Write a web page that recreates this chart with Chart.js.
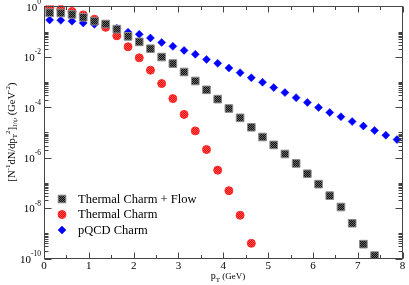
<!DOCTYPE html>
<html>
<head>
<meta charset="utf-8">
<script src="https://cdn.jsdelivr.net/npm/chart.js@4/dist/chart.umd.min.js"></script>
<style>
  html, body { margin: 0; padding: 0; background: #fff; }
  #wrap { width: 409px; height: 285px; }
</style>
</head>
<body>
<div id="wrap"><canvas id="chart" width="409" height="285"></canvas></div>
<script>
// pT bins (GeV)
const ptFlow = [0.125, 0.375, 0.625, 0.875, 1.125, 1.375, 1.625, 1.875, 2.125, 2.375,
  2.625, 2.875, 3.125, 3.375, 3.625, 3.875, 4.125, 4.375, 4.625, 4.875,
  5.125, 5.375, 5.625, 5.875, 6.125, 6.375, 6.625, 6.875, 7.125, 7.375];
const ptThermal = [0.125, 0.375, 0.625, 0.875, 1.125, 1.375, 1.625, 1.875, 2.125, 2.375,
  2.625, 2.875, 3.125, 3.375, 3.625, 3.875, 4.125, 4.375, 4.625];
const ptPqcd = [0.125, 0.375, 0.625, 0.875, 1.125, 1.375, 1.625, 1.875, 2.125, 2.375,
  2.625, 2.875, 3.125, 3.375, 3.625, 3.875, 4.125, 4.375, 4.625, 4.875,
  5.125, 5.375, 5.625, 5.875, 6.125, 6.375, 6.625, 6.875, 7.125, 7.375, 7.625, 7.875];

// 스펙트럼 값
const thermalFlow = [0.56, 0.55, 0.48, 0.37, 0.26, 0.20, 0.125, 0.065, 0.039, 0.021,
  9.8e-3, 5.4e-3, 2.5e-3, 1.1e-3, 4.9e-4, 2.1e-4, 8.9e-5, 3.8e-5, 1.6e-5, 6.6e-6,
  3.2e-6, 1.4e-6, 5.9e-7, 2.3e-7, 8.9e-8, 3.1e-8, 1.1e-8, 2.5e-9, 3.7e-10, 1.3e-10];
const thermal = [0.93, 0.78, 0.63, 0.46, 0.31, 0.148, 0.068, 0.025, 9.1e-3, 2.95e-3,
  8.7e-4, 2.2e-4, 5.2e-5, 1.15e-5, 2.1e-6, 3.2e-7, 4.9e-8, 5.2e-9, 4.0e-10];
const pqcd = [0.29, 0.28, 0.26, 0.22, 0.195, 0.174, 0.135, 0.095, 0.078, 0.056,
  0.037, 0.026, 0.018, 0.0126, 7.9e-3, 5.5e-3, 3.6e-3, 2.35e-3, 1.48e-3, 9.8e-4,
  6.0e-4, 3.8e-4, 2.4e-4, 1.55e-4, 9.8e-5, 6.2e-5, 4.2e-5, 2.7e-5, 1.8e-5, 1.2e-5,
  7.8e-6, 5.2e-6];

const seriesNames = ['Thermal Charm + Flow', 'Thermal Charm', 'pQCD Charm'];
const xTickValues = [0, 1, 2, 3, 4, 5, 6, 7, 8];
const yTickExponents = [0, -2, -4, -6, -8, -10];

const SERIF = '"Liberation Serif", "DejaVu Serif", serif';

// 체크무늬 패턴 (xmgrace 심볼 느낌)
function makePattern(c1, c2) {
  const pc = document.createElement('canvas');
  pc.width = 2; pc.height = 2;
  const g = pc.getContext('2d');
  g.fillStyle = c1; g.fillRect(0, 0, 2, 2);
  g.fillStyle = c2; g.fillRect(0, 0, 1, 1); g.fillRect(1, 1, 1, 1);
  return g.createPattern(pc, 'repeat');
}

const toPts = (xs, ys) => xs.map((x, i) => ({ x, y: ys[i] }));

// 위첨자/아래첨자 텍스트 그리기
function drawRich(ctx, parts, x, y, align) {
  let total = 0;
  parts.forEach(p => { ctx.font = p.size + 'px ' + SERIF; p.w = ctx.measureText(p.t).width; total += p.w; });
  let cx = align === 'right' ? x - total : align === 'center' ? x - total / 2 : x;
  parts.forEach(p => {
    ctx.font = p.size + 'px ' + SERIF;
    ctx.fillText(p.t, cx, y + (p.dy || 0));
    cx += p.w;
  });
}

const framePlugin = {
  id: 'graceFrame',
  afterDraw(chart) {
    const { ctx, chartArea: a, scales } = chart;
    const xs = scales.x, ys = scales.y;
    ctx.save();
    ctx.strokeStyle = '#444';
    ctx.lineWidth = 1;
    const L = Math.round(a.left) + 0.5, R = Math.round(a.right) - 0.5;
    const T = Math.round(a.top) + 0.5, B = Math.round(a.bottom) - 0.5;
    ctx.strokeRect(L, T, R - L, B - T);

    ctx.beginPath();
    // x ticks (안쪽으로)
    for (let v = 0; v <= 8; v += 0.5) {
      const px = Math.round(xs.getPixelForValue(v)) + 0.5;
      const len = Number.isInteger(v) ? 6 : 3.5;
      ctx.moveTo(px, B); ctx.lineTo(px, B - len);
      ctx.moveTo(px, T); ctx.lineTo(px, T + len);
    }
    // y ticks
    for (let e = -10; e <= 0; e += 2) {
      const py = Math.round(ys.getPixelForValue(Math.pow(10, e))) + 0.5;
      ctx.moveTo(L, py); ctx.lineTo(L + 7, py);
      ctx.moveTo(R, py); ctx.lineTo(R - 7, py);
      if (e < 0) {
        for (let k = 2; k <= 10; k++) {
          const my = Math.round(ys.getPixelForValue(k * Math.pow(10, e))) + 0.5;
          ctx.moveTo(L, my); ctx.lineTo(L + 4, my);
          ctx.moveTo(R, my); ctx.lineTo(R - 4, my);
        }
      }
    }
    ctx.stroke();

    ctx.fillStyle = '#000';
    ctx.textBaseline = 'middle';
    // x tick labels
    ctx.textAlign = 'center';
    ctx.font = '11px ' + SERIF;
    xTickValues.forEach(v => ctx.fillText(String(v), xs.getPixelForValue(v), 266));
    // y tick labels
    ctx.textAlign = 'left';
    yTickExponents.forEach(e => {
      const py = ys.getPixelForValue(Math.pow(10, e));
      drawRich(ctx, [
        { t: '10', size: 11, dy: 1.5 },
        { t: String(e), size: 7.5, dy: -4.5 }
      ], 41, py, 'right');
    });

    // x title
    ctx.textBaseline = 'alphabetic';
    drawRich(ctx, [
      { t: 'p', size: 10, dy: 0 },
      { t: 'T', size: 7, dy: 2.5 },
      { t: ' (GeV)', size: 9, dy: -0.5 }
    ], 228, 279, 'center');

    // y title (회전)
    ctx.textBaseline = 'middle';
    ctx.save();
    ctx.translate(12, 132);
    ctx.rotate(-Math.PI / 2);
    drawRich(ctx, [
      { t: '[N', size: 10.5, dy: 0 },
      { t: '-1', size: 7, dy: -4 },
      { t: 'dN/dp', size: 10.5, dy: 0 },
      { t: 'T', size: 7, dy: 3 },
      { t: '2', size: 7, dy: -4 },
      { t: ']', size: 10.5, dy: 0 },
      { t: 'J/\u03c8', size: 7, dy: 3 },
      { t: ' (GeV', size: 10.5, dy: 0 },
      { t: '-2', size: 7, dy: -4 },
      { t: ')', size: 10.5, dy: 0 }
    ], 0, 0, 'center');
    ctx.restore();

    // legend
    const rows = [199, 214.5, 230];
    chart.data.datasets.forEach((ds, i) => {
      ctx.save();
      ctx.fillStyle = ds.backgroundColor;
      ctx.strokeStyle = ds.borderColor;
      ctx.lineWidth = ds.borderWidth;
      Chart.helpers.drawPoint(ctx, { pointStyle: ds.pointStyle, radius: ds.pointRadius, rotation: 0, borderWidth: ds.borderWidth }, 62, rows[i]);
      ctx.restore();
      ctx.fillStyle = '#000';
      ctx.textAlign = 'left';
      ctx.font = '12.5px ' + SERIF;
      ctx.fillText(seriesNames[i], 78, rows[i] + 0.5);
    });
    ctx.restore();
  }
};

const blackPat = makePattern('#111', '#666');
const redPat = makePattern('#ff0000', '#ff5a5a');

new Chart(document.getElementById('chart'), {
  type: 'scatter',
  data: {
    datasets: [
      {
        label: seriesNames[0],
        data: toPts(ptFlow, thermalFlow),
        pointStyle: 'rect',
        pointRadius: 5.4,
        backgroundColor: blackPat,
        borderColor: '#8a8a8a',
        borderWidth: 1,
        clip: { left: 5, top: 5, right: 5, bottom: 0 }
      },
      {
        label: seriesNames[1],
        data: toPts(ptThermal, thermal),
        pointStyle: 'circle',
        pointRadius: 4,
        backgroundColor: redPat,
        borderColor: '#ff2a2a',
        borderWidth: 1,
        clip: { left: 5, top: 1, right: 5, bottom: 0 }
      },
      {
        label: seriesNames[2],
        data: toPts(ptPqcd, pqcd),
        pointStyle: 'rectRot',
        pointRadius: 4,
        backgroundColor: '#0000ff',
        borderColor: '#0000ff',
        borderWidth: 0.5,
        clip: { left: 5, top: 5, right: 5, bottom: 0 }
      }
    ]
  },
  options: {
    responsive: false,
    devicePixelRatio: 1,
    animation: false,
    events: [],
    layout: { padding: { left: 44, right: 3, top: 6, bottom: 26.5 } },
    plugins: { legend: { display: false }, tooltip: { enabled: false } },
    scales: {
      x: { type: 'linear', min: 0, max: 8, display: false },
      y: { type: 'logarithmic', min: 1e-10, max: 1, display: false }
    }
  },
  plugins: [framePlugin]
});
</script>
</body>
</html>
